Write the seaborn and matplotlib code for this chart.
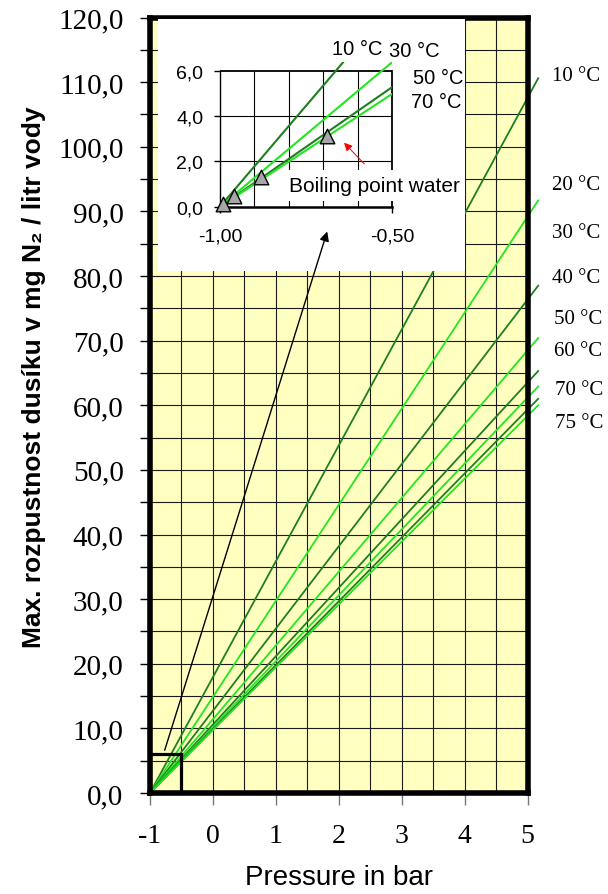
import matplotlib
matplotlib.use('Agg')
import matplotlib.pyplot as plt
import matplotlib.ticker as mticker
from matplotlib.patches import Rectangle
import seaborn as sns
import pandas as pd

# main chart: N2 solubility lines, each starts at -1 bar (0 bar absolute)
temps = ["10 °C", "20 °C", "30 °C", "40 °C", "50 °C", "60 °C", "70 °C", "75 °C"]
p_start = -1.0
p_end = 5.17
n2_end = [110.6, 91.7, 78.5, 70.4, 65.3, 62.9, 61.0, 60.0]

# inset: zoom on the -1 .. -0.5 bar region
inset_temps = ["10 °C", "30 °C", "50 °C", "70 °C"]
inset_p_end = -0.5
inset_n2_end = [8.9, 6.37, 5.27, 4.97]
boil_p = [-0.99, -0.96, -0.88, -0.69]
boil_n2 = [0.12, 0.49, 1.30, 3.13]

DARK = "#1f7f1f"
BRIGHT = "#22e622"
main_colors = [DARK, BRIGHT, DARK, BRIGHT, DARK, BRIGHT, DARK, BRIGHT]
inset_colors = [DARK, BRIGHT, DARK, BRIGHT]

# where the temperature labels sit at the right of the chart
label_x = [5.39, 5.39, 5.39, 5.39, 5.42, 5.42, 5.44, 5.44]
label_y = [111.1, 94.2, 86.8, 79.8, 73.5, 68.5, 62.4, 57.4]
inset_label_xy = [(-0.673, 6.96), (-0.51, 6.87), (-0.44, 5.72), (-0.446, 4.62)]

plt.rcParams['font.family'] = ['Liberation Serif', 'DejaVu Serif']
plt.rcParams['axes.unicode_minus'] = False
SANS = ['Liberation Sans', 'DejaVu Sans']

W, H = 608, 895
fig = plt.figure(figsize=(W / 100, H / 100), dpi=100)
ax = fig.add_axes([150 / W, (H - 794) / H, 377.5 / W, 775.5 / H])

rows = []
for t, v in zip(temps, n2_end):
    rows.append({"temp": t, "p": p_start, "n2": 0.0})
    rows.append({"temp": t, "p": p_end, "n2": v})
df = pd.DataFrame(rows)

sns.lineplot(data=df, x="p", y="n2", hue="temp", palette=dict(zip(temps, main_colors)),
             estimator=None, sort=False, legend=False, ax=ax, lw=1.3, clip_on=False)

ax.set_facecolor("#ffffc0")
ax.set_xlim(-1, 5)
ax.set_ylim(0, 120)
ax.xaxis.set_major_locator(mticker.MultipleLocator(1))
ax.xaxis.set_minor_locator(mticker.MultipleLocator(0.5))
ax.yaxis.set_major_locator(mticker.MultipleLocator(10))
ax.yaxis.set_minor_locator(mticker.MultipleLocator(5))
ax.yaxis.set_major_formatter(mticker.FuncFormatter(lambda v, _: f"{v:.1f}".replace(".", ",")))
ax.grid(True, which="both", color="#1a1a1a", lw=0.8)
ax.set_axisbelow(True)
ax.set_xlabel("")
ax.set_ylabel("")
for s in ax.spines.values():
    s.set_linewidth(4)
    s.set_color("black")
ax.tick_params(axis="y", which="major", length=7, width=1, pad=12, labelsize=21)
ax.tick_params(axis="y", which="minor", length=7, width=1)
ax.tick_params(axis="x", which="major", length=8.5, width=1, color="#777777", pad=13, labelsize=20)
ax.tick_params(axis="x", which="minor", length=0)

# small frame marking the zoomed region
ax.add_patch(Rectangle((-1, 0), 0.5, 6, fill=False, ec="black", lw=2.3, zorder=3, clip_on=False))

# white background behind the inset
ax.add_patch(Rectangle((158 / W, (H - 272) / H), 307 / W, 252 / H, transform=fig.transFigure,
                       fc="white", ec="none", zorder=2.6, clip_on=False))

for t, x, y in zip(temps, label_x, label_y):
    ax.text(x, y, t, fontsize=15, ha="left", va="center", clip_on=False)

fig.text(339 / W, 1 - 878 / H, "Pressure in bar", family=SANS, fontsize=20, ha="center", va="center")
fig.text(34 / W, 1 - 377 / H, "Max. rozpustnost dusíku v mg N₂ / litr vody",
         family=['Liberation Sans Narrow', 'Liberation Sans', 'DejaVu Sans'], fontweight="bold",
         fontsize=19, rotation=90, ha="center", va="center")

# inset chart
ins = fig.add_axes([220 / W, (H - 207.7) / H, 172 / W, 145.1 / H], zorder=3)
ins.set_facecolor("white")
irows = []
for t, v in zip(inset_temps, inset_n2_end):
    irows.append({"temp": t, "p": p_start, "n2": 0.0})
    irows.append({"temp": t, "p": inset_p_end, "n2": v})
idf = pd.DataFrame(irows)
sns.lineplot(data=idf, x="p", y="n2", hue="temp", palette=dict(zip(inset_temps, inset_colors)),
             estimator=None, sort=False, legend=False, ax=ins, lw=1.5, zorder=3)
sns.scatterplot(x=boil_p, y=boil_n2, marker="^", s=110, color="#a6a6a6", edgecolor="black",
                linewidth=1, ax=ins, zorder=4, clip_on=False)

ins.set_xlim(-1, -0.5)
ins.set_ylim(0, 6.4)
ins.vlines([-0.9, -0.8, -0.7, -0.6], 0, 6, color="black", lw=0.8, zorder=1)
ins.hlines([2, 4], -1, -0.5, color="black", lw=0.8, zorder=1)
ins.hlines([6], -1, -0.5, color="black", lw=1.3, zorder=1)
ins.spines["top"].set_visible(False)
ins.spines["left"].set_bounds(0, 6)
ins.spines["right"].set_bounds(0, 6)
ins.spines["left"].set_linewidth(1.0)
ins.spines["right"].set_linewidth(1.3)
ins.spines["bottom"].set_linewidth(1.8)
ins.set_xticks([-1.0, -0.5])
ins.set_xticklabels(["-1,00", "-0,50"])
ins.set_yticks([0, 2, 4, 6])
ins.set_yticklabels(["0,0", "2,0", "4,0", "6,0"])
ins.tick_params(axis="both", length=4, width=1, labelsize=14)
ins.tick_params(axis="y", pad=8)
ins.tick_params(axis="x", pad=11)
for lab in ins.get_xticklabels() + ins.get_yticklabels():
    lab.set_family(SANS)
ins.set_xlabel("")
ins.set_ylabel("")

for t, (x, y) in zip(inset_temps, inset_label_xy):
    ins.text(x, y, t, fontfamily=SANS, fontsize=14.5, ha="left", va="center", clip_on=False)

ins.annotate("", xy=(-0.645, 2.91), xytext=(-0.575, 1.8),
             arrowprops=dict(arrowstyle="-|>", color="red", lw=0.7, mutation_scale=12),
             annotation_clip=False, zorder=5)
ins.text(-0.5525, 0.93, "Boiling point water", family=SANS, fontsize=15, ha="center", va="center",
         zorder=6, clip_on=False, bbox=dict(fc="white", ec="none", pad=4))

# arrow from the small frame up to the inset
ins.annotate("", xy=(1.83, 87.3), xycoords=ax.transData, xytext=(-0.78, 6.2), textcoords=ax.transData,
             arrowprops=dict(arrowstyle="-|>", color="black", lw=1.0, mutation_scale=14),
             annotation_clip=False)

fig.savefig("out.png", dpi=100)
